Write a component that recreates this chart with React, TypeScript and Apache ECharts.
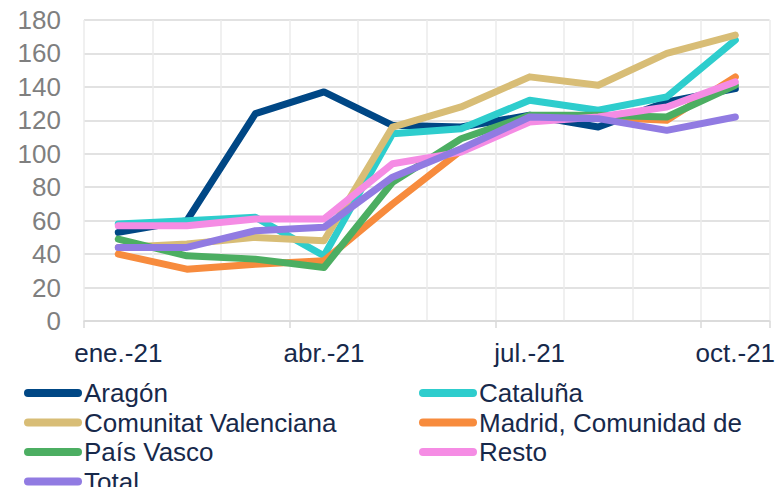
import React, { useEffect, useRef } from "react";
import * as echarts from "echarts";

const categories = ["ene.-21", "feb.-21", "mar.-21", "abr.-21", "may.-21", "jun.-21", "jul.-21", "ago.-21", "sep.-21", "oct.-21"];

const aragon = [53, 60, 124, 137, 117, 116, 123, 116, 131, 139];
const cataluna = [58, 60, 62, 39, 112, 115, 132, 126, 134, 168];
const comunitatValenciana = [44, 46, 50, 48, 116, 128, 146, 141, 160, 171];
const madrid = [40, 31, 34, 36, 70, 102, 122, 122, 120, 146];
const paisVasco = [49, 39, 37, 32, 83, 109, 123, 123, 122, 141];
const resto = [57, 57, 61, 61, 94, 101, 119, 122, 128, 143];
const total = [44, 44, 54, 56, 86, 103, 122, 121, 114, 122];

const seriesNames = ["Aragón", "Cataluña", "Comunitat Valenciana", "Madrid, Comunidad de", "País Vasco", "Resto", "Total"];
const seriesValues = [aragon, cataluna, comunitatValenciana, madrid, paisVasco, resto, total];
const seriesColors = ["#004785", "#2ECDCD", "#D8BD76", "#F78B3D", "#4CAE62", "#F58CE4", "#917BE2"];

const yTicks = { min: 0, max: 180, interval: 20 };

const FONT = "'Liberation Sans', Arial, sans-serif";
const TEXT_DARK = "#17294B";
const ICON = "path://M4 0H54A4 4 0 0 1 54 8H4A4 4 0 0 1 4 0Z";
const H = 540;

export default function App() {
  const ref = useRef<HTMLDivElement>(null);
  useEffect(() => {
    const chart = echarts.init(ref.current!, null, { renderer: "svg" });
    const legendCommon = {
      orient: "vertical",
      top: 380,
      itemWidth: 58,
      itemHeight: 8,
      itemGap: 3.5,
      icon: ICON,
      padding: 0,
      textStyle: { fontFamily: FONT, fontSize: 26, color: TEXT_DARK, lineHeight: 26, padding: [0, 0, 0, -3] },
    };
    chart.setOption({
      animation: false,
      color: seriesColors,
      grid: { left: 84, right: 7, top: 20, bottom: H - 321, containLabel: false },
      legend: [
        { ...legendCommon, left: 24, data: [seriesNames[0], seriesNames[2], seriesNames[4], seriesNames[6]] },
        { ...legendCommon, left: 419, data: [seriesNames[1], seriesNames[3], seriesNames[5]] },
      ],
      xAxis: {
        type: "category",
        data: categories,
        boundaryGap: true,
        axisLine: { show: true, lineStyle: { color: "#D9D9D9", width: 1.5 } },
        axisTick: { show: true, interval: 2, length: 7, lineStyle: { color: "#D9D9D9", width: 1.5 } },
        axisLabel: { interval: 2, margin: 19, fontFamily: FONT, fontSize: 26, color: TEXT_DARK },
        splitLine: { show: true, interval: 0, lineStyle: { color: "#EBEBEB", width: 1.5 } },
      },
      yAxis: {
        type: "value",
        min: yTicks.min,
        max: yTicks.max,
        interval: yTicks.interval,
        axisLine: { show: false },
        axisTick: { show: false },
        axisLabel: { margin: 23, fontFamily: FONT, fontSize: 26, color: "#7F7F7F" },
        splitLine: { show: true, lineStyle: { color: "#D9D9D9", width: 1.5 } },
      },
      series: seriesNames.map((name, i) => ({
        name,
        type: "line",
        data: seriesValues[i],
        showSymbol: false,
        symbol: "none",
        itemStyle: { color: seriesColors[i] },
        lineStyle: { color: seriesColors[i], width: 7, cap: "round", join: "round" },
      })),
    });
    return () => chart.dispose();
  }, []);
  return <div ref={ref} style={{ position: "absolute", left: 0, top: 0, width: 778, height: H }} />;
}
